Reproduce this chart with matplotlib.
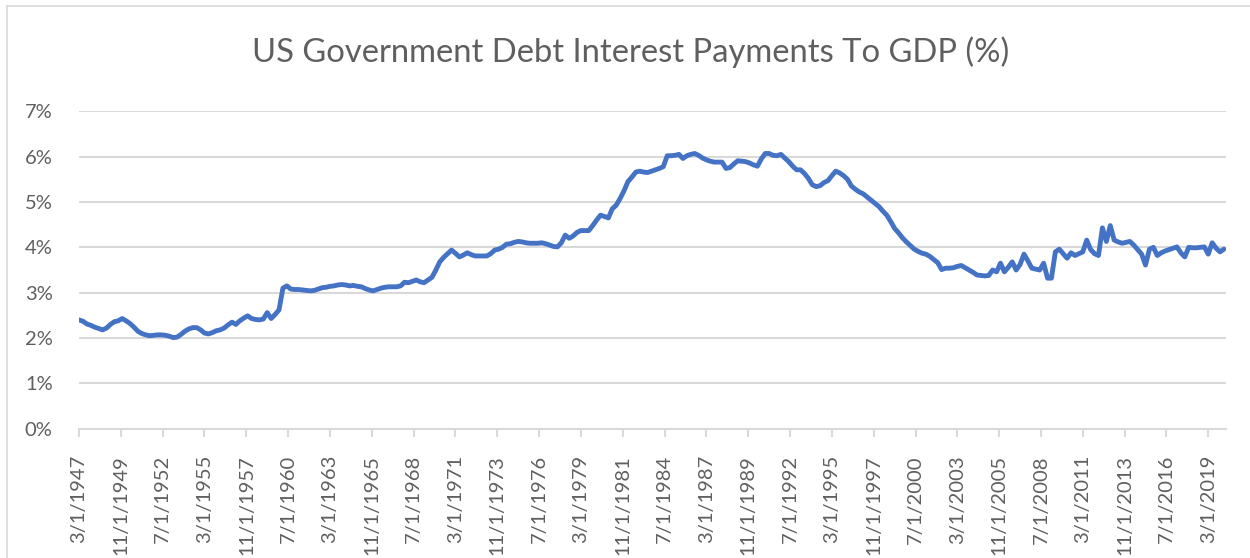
import numpy as np
import pandas as pd
import matplotlib
matplotlib.use("Agg")
import matplotlib.pyplot as plt
import matplotlib.ticker as mticker
from matplotlib.lines import Line2D

# quarterly interest payments as % of GDP, Mar 1947 .. Mar 2020 (one row per year)
interest_to_gdp = [
    2.40, 2.37, 2.31, 2.28,  # 1947
    2.24, 2.21, 2.18, 2.22,
    2.30, 2.36, 2.38, 2.43,
    2.38, 2.32, 2.24, 2.15,  # 1950
    2.10, 2.07, 2.05, 2.06,
    2.07, 2.07, 2.06, 2.04,
    2.01, 2.02, 2.08, 2.15,
    2.20, 2.23, 2.23, 2.18,
    2.11, 2.09, 2.12, 2.16,  # 1955
    2.18, 2.22, 2.29, 2.35,
    2.30, 2.38, 2.44, 2.49,
    2.43, 2.41, 2.40, 2.42,
    2.56, 2.43, 2.52, 2.62,
    3.10, 3.15, 3.08, 3.07,  # 1960
    3.07, 3.06, 3.05, 3.04,
    3.05, 3.08, 3.11, 3.12,
    3.14, 3.15, 3.17, 3.18,
    3.17, 3.15, 3.16, 3.14,
    3.13, 3.09, 3.06, 3.04,  # 1965
    3.07, 3.10, 3.12, 3.13,
    3.13, 3.13, 3.15, 3.23,
    3.22, 3.25, 3.28, 3.24,
    3.22, 3.28, 3.34, 3.50,
    3.68, 3.78, 3.86, 3.94,  # 1970
    3.87, 3.79, 3.83, 3.88,
    3.84, 3.81, 3.81, 3.81,
    3.81, 3.86, 3.94, 3.96,
    4.00, 4.07, 4.08, 4.11,
    4.13, 4.12, 4.10, 4.09,  # 1975
    4.09, 4.09, 4.10, 4.08,
    4.05, 4.02, 4.01, 4.10,
    4.27, 4.20, 4.25, 4.33,
    4.37, 4.37, 4.37, 4.48,
    4.60, 4.71, 4.68, 4.65,  # 1980
    4.85, 4.93, 5.08, 5.25,
    5.45, 5.55, 5.66, 5.68,
    5.66, 5.65, 5.68, 5.71,
    5.74, 5.78, 6.02, 6.02,
    6.03, 6.05, 5.96, 6.02,  # 1985
    6.05, 6.07, 6.03, 5.97,
    5.93, 5.90, 5.88, 5.88,
    5.88, 5.74, 5.76, 5.84,
    5.91, 5.90, 5.89, 5.86,
    5.82, 5.79, 5.95, 6.07,  # 1990
    6.07, 6.03, 6.02, 6.05,
    5.97, 5.89, 5.79, 5.71,
    5.71, 5.63, 5.52, 5.38,
    5.34, 5.36, 5.43, 5.47,
    5.58, 5.68, 5.64, 5.58,  # 1995
    5.50, 5.35, 5.28, 5.22,
    5.18, 5.11, 5.04, 4.97,
    4.90, 4.80, 4.71, 4.57,
    4.42, 4.32, 4.21, 4.12,
    4.04, 3.96, 3.91, 3.87,  # 2000
    3.85, 3.80, 3.73, 3.66,
    3.51, 3.54, 3.54, 3.55,
    3.58, 3.60, 3.55, 3.50,
    3.45, 3.39, 3.38, 3.37,
    3.38, 3.50, 3.46, 3.65,  # 2005
    3.46, 3.56, 3.68, 3.50,
    3.62, 3.85, 3.70, 3.54,
    3.52, 3.50, 3.65, 3.32,
    3.32, 3.90, 3.96, 3.86,
    3.76, 3.88, 3.82, 3.86,  # 2010
    3.90, 4.16, 3.95, 3.86,
    3.82, 4.43, 4.13, 4.48,
    4.16, 4.12, 4.09, 4.11,
    4.13, 4.05, 3.95, 3.85,
    3.61, 3.96, 4.00, 3.82,  # 2015
    3.88, 3.92, 3.95, 3.98,
    4.01, 3.88, 3.79, 4.00,
    3.99, 3.99, 4.00, 4.01,
    3.85, 4.10, 3.98, 3.90,
    3.96,                    # 2020
]
dates = pd.date_range("1947-03-01", periods=len(interest_to_gdp), freq="3MS")

tick_labels = [
    "3/1/1947", "11/1/1949", "7/1/1952", "3/1/1955", "11/1/1957", "7/1/1960",
    "3/1/1963", "11/1/1965", "7/1/1968", "3/1/1971", "11/1/1973", "7/1/1976",
    "3/1/1979", "11/1/1981", "7/1/1984", "3/1/1987", "11/1/1989", "7/1/1992",
    "3/1/1995", "11/1/1997", "7/1/2000", "3/1/2003", "11/1/2005", "7/1/2008",
    "3/1/2011", "11/1/2013", "7/1/2016", "3/1/2019",
]
tick_dates = pd.to_datetime(tick_labels, format="%m/%d/%Y")

title = "US Government Debt Interest Payments To GDP (%)"

text_grey = "#5f5f5f"
grid_grey = "#D9D9D9"
line_blue = "#4472C4"

plt.rcParams["font.family"] = ["Lato", "DejaVu Sans"]

fig = plt.figure(figsize=(12.5, 5.58), dpi=100)
ax = fig.add_axes([0.0632, 0.2317, 0.9174, 0.5688])

ax.plot(dates, interest_to_gdp, color=line_blue, lw=3.5, solid_joinstyle="round",
        solid_capstyle="round", zorder=3)

ax.set_ylim(0, 7)
ax.set_yticks(np.arange(0, 8))
ax.yaxis.set_major_formatter(mticker.FuncFormatter(lambda v, p: f"{v:.0f}%"))
ax.grid(axis="y", color=grid_grey, lw=1.5)
ax.set_axisbelow(True)

ax.set_xlim(dates[0], pd.Timestamp("2020-04-12"))
ax.set_xticks(tick_dates)
ax.set_xticklabels(tick_labels, rotation=90)

for s in ["top", "right", "left"]:
    ax.spines[s].set_visible(False)
ax.spines["bottom"].set_color(grid_grey)
ax.spines["bottom"].set_linewidth(1.5)

ax.tick_params(axis="y", length=0, pad=19, labelsize=14.5, labelcolor=text_grey)
ax.tick_params(axis="x", length=6, width=1.5, color=grid_grey, pad=13,
               labelsize=14.5, labelcolor=text_grey)

fig.text(0.5044, 0.907, title, ha="center", va="center", fontsize=23.6,
         color=text_grey)

# chart frame (top and left edges)
fig.add_artist(Line2D([7 / 1250, 7 / 1250], [0, 1 - 6 / 558], transform=fig.transFigure,
                      color=grid_grey, lw=1.2))
fig.add_artist(Line2D([7 / 1250, 1], [1 - 6 / 558, 1 - 6 / 558], transform=fig.transFigure,
                      color=grid_grey, lw=1.2))

fig.savefig("out.png", dpi=100)
